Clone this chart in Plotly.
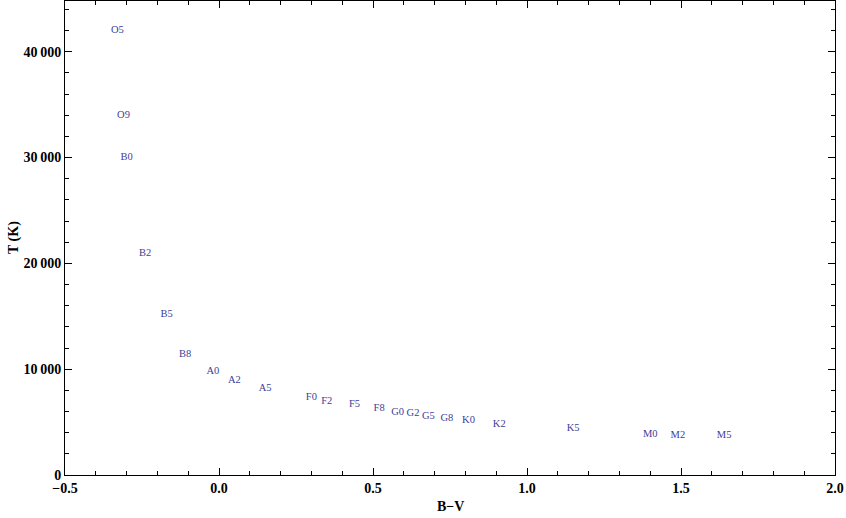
import plotly.graph_objects as go

spectral_types = ["O5", "O9", "B0", "B2", "B5", "B8", "A0", "A2", "A5", "F0", "F2", "F5", "F8",
                  "G0", "G2", "G5", "G8", "K0", "K2", "K5", "M0", "M2", "M5"]
b_minus_v = [-0.33, -0.31, -0.30, -0.24, -0.17, -0.11, -0.02, 0.05, 0.15, 0.30, 0.35, 0.44, 0.52,
             0.58, 0.63, 0.68, 0.74, 0.81, 0.91, 1.15, 1.40, 1.49, 1.64]
temperature = [42000, 34000, 30000, 20900, 15200, 11400, 9800, 8950, 8180, 7300, 7000, 6650, 6250,
               5900, 5860, 5560, 5310, 5150, 4830, 4410, 3840, 3720, 3700]

x_ticks = [-0.5, 0.0, 0.5, 1.0, 1.5, 2.0]
x_tick_text = ["\u22120.5", "0.0", "0.5", "1.0", "1.5", "2.0"]
y_ticks = [0, 10000, 20000, 30000, 40000]
y_tick_text = ["0", "10\u2009000", "20\u2009000", "30\u2009000", "40\u2009000"]

x_range = [-0.5, 2.0]
y_range = [0, 44800]

fig = go.Figure()
fig.add_trace(go.Scatter(
    x=b_minus_v, y=temperature, mode="text", text=spectral_types,
    textposition="middle center",
    textfont=dict(family="Liberation Serif", size=10.5, color="#3d3d99"),
    hoverinfo="skip", showlegend=False,
))
# invisible trace to anchor the mirrored frame axes
fig.add_trace(go.Scatter(x=[x_range[0]], y=[y_range[0]], xaxis="x2", yaxis="y2",
                         mode="markers", marker=dict(opacity=0), hoverinfo="skip", showlegend=False))

tick_font = dict(family="Liberation Serif", size=14, color="black", weight="bold")
common = dict(
    showline=True, linecolor="black", linewidth=1,
    ticks="inside", ticklen=7, tickwidth=1, tickcolor="black",
    showgrid=False, zeroline=False, automargin=False,
    tickfont=tick_font,
)

fig.update_layout(
    width=846, height=518,
    margin=dict(l=65, r=11, t=1, b=43),
    plot_bgcolor="white", paper_bgcolor="white",
    xaxis=dict(range=x_range, tickvals=x_ticks, ticktext=x_tick_text,
               minor=dict(dtick=0.1, tick0=0, ticks="inside", ticklen=4, tickcolor="black", showgrid=False),
               **common),
    yaxis=dict(range=y_range, tickvals=y_ticks, ticktext=y_tick_text,
               minor=dict(dtick=2000, tick0=0, ticks="inside", ticklen=4, tickcolor="black", showgrid=False),
               **common),
    xaxis2=dict(range=x_range, overlaying="x", side="top", anchor="y2", tickvals=x_ticks,
                showticklabels=False,
                minor=dict(dtick=0.1, tick0=0, ticks="inside", ticklen=4, tickcolor="black", showgrid=False),
                **common),
    yaxis2=dict(range=y_range, overlaying="y", side="right", anchor="x2", tickvals=y_ticks,
                showticklabels=False,
                minor=dict(dtick=2000, tick0=0, ticks="inside", ticklen=4, tickcolor="black", showgrid=False),
                **common),
    annotations=[
        dict(text="B\u2212V", xref="paper", yref="paper", x=0.5, y=0,
             yshift=-22, xanchor="center", yanchor="top", showarrow=False,
             font=dict(family="Liberation Serif", size=14, color="black", weight="bold")),
        dict(text="T (K)", xref="paper", yref="paper", x=0, y=0.5,
             xshift=-51, textangle=-90, xanchor="center", yanchor="middle", showarrow=False,
             font=dict(family="Liberation Serif", size=14, color="black", weight="bold")),
    ],
)

fig.write_html("out.html", config={"displayModeBar": False},
               post_script="document.body.style.margin='0';")
